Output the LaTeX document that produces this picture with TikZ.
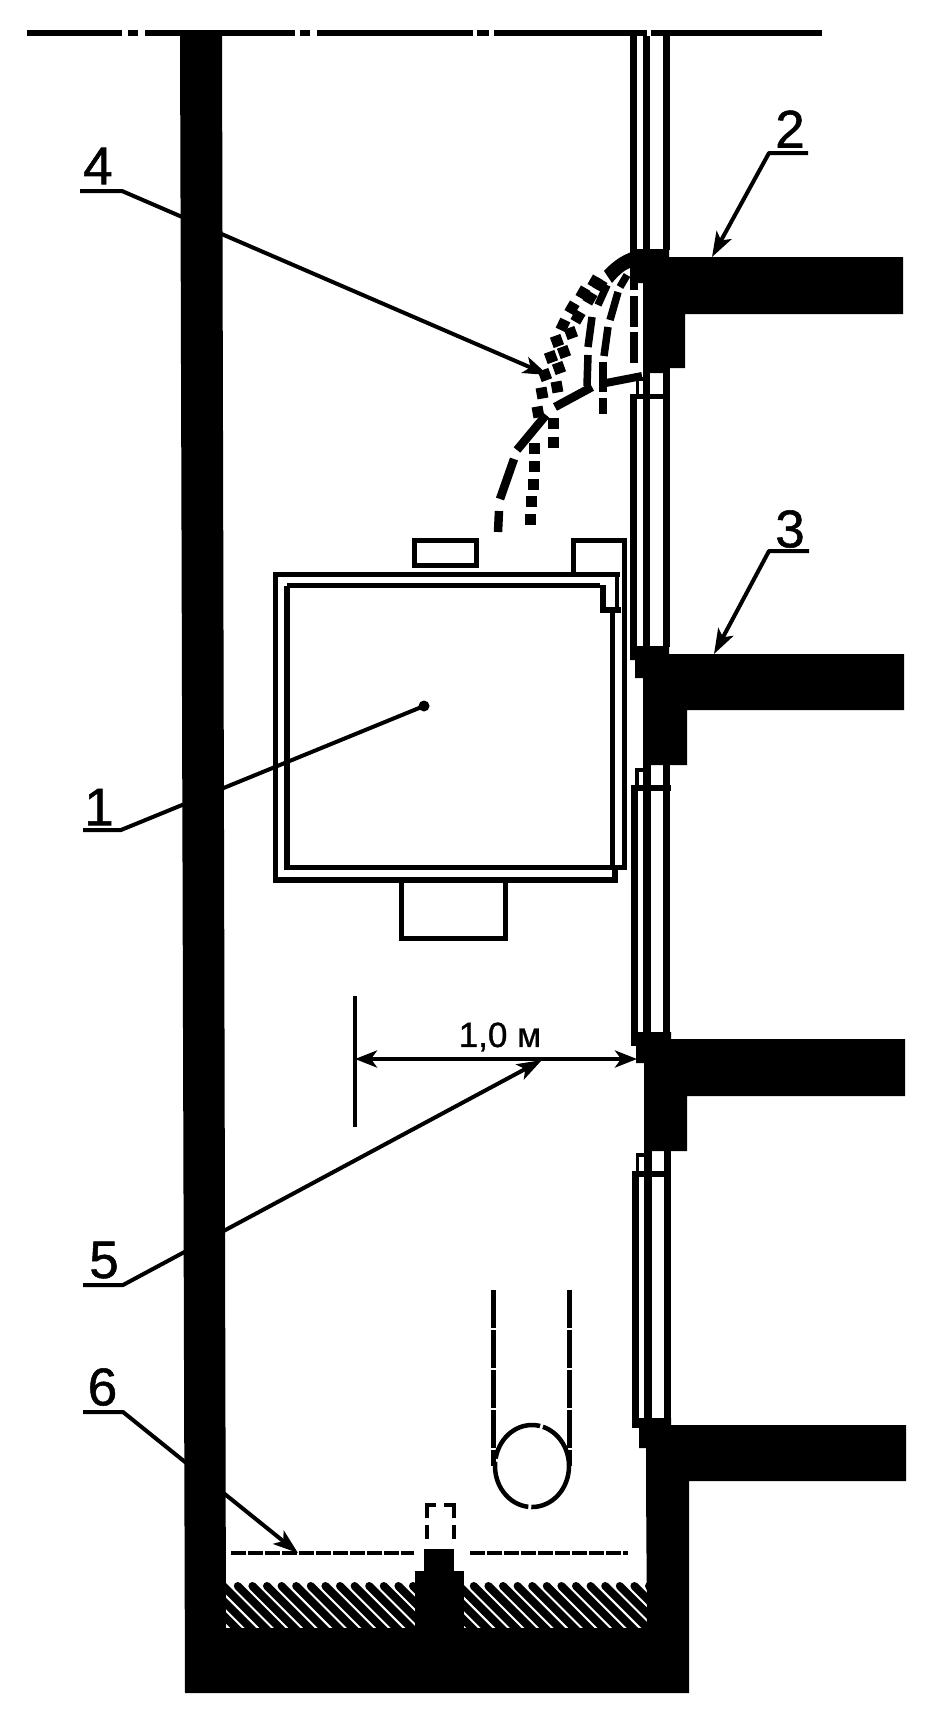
\documentclass[tikz,border=0pt]{standalone}
\usepackage{fontspec}
\setmainfont{Liberation Sans}
\newfontfamily\labelfont[FakeBold=1]{Liberation Sans}
\usetikzlibrary{arrows.meta}
\tikzset{
  every node/.style={inner sep=0pt,outer sep=0pt},
  digit/.style={font=\labelfont\fontsize{53}{53}\selectfont},
  dimtext/.style={font=\labelfont\fontsize{35}{35}\selectfont},
  leader/.style={line width=4pt,line join=round,-{Stealth[length=25pt,width=17pt,inset=6pt]}},
  plainleader/.style={line width=4pt,line join=round},
  outline/.style={line width=5.4pt,line join=miter},
  thickdash/.style={line width=8.5pt},
  meddash/.style={line width=7.5pt},
  finedash/.style={line width=4.5pt,dash pattern=on 38pt off 2pt},
  floordash/.style={line width=3.4pt,dash pattern=on 15pt off 2pt},
  stripe/.style={line width=8pt,line cap=round},
}
\begin{document}
\begin{tikzpicture}[x=1pt,y=-1pt]
\useasboundingbox (0,0) rectangle (933,1729);
% top datum line
\foreach \a/\b in {27/122,128/138,145/295,300/310,317/473,477/489,494/647,651/822}
  \fill (\a,30) rectangle (\b,36);
% shaft walls and pit
\fill (180,33) -- (222,33) -- (226,1628) -- (647,1628) -- (646,1481) -- (689,1481) -- (689,1693) -- (185,1693) -- cycle;
% hatched fill
\begin{scope}
  \clip (226,1578) rectangle (415,1630);
  \foreach \i in {0,...,16} \draw[stripe] ({194+14.6*\i},1586) -- ++(46,46);
\end{scope}
\begin{scope}
  \clip (464,1578) rectangle (647,1630);
  \foreach \i in {0,...,16} \draw[stripe] ({430+14.6*\i},1586) -- ++(46,46);
\end{scope}
% pedestal
\fill (424,1549) rectangle (454,1571);
\fill (415,1571) rectangle (464,1630);
% buffer travel (dashed)
\draw[line width=4pt] (426.5,1518) -- (426.5,1505) -- (436,1505);
\draw[line width=4pt] (444,1505) -- (454,1505) -- (454,1518);
\draw[line width=4pt] (426.5,1525) -- (426.5,1539);
\draw[line width=4pt] (454,1525) -- (454,1539);
% floor dashed level
\draw[floordash] (231,1553) -- (414,1553);
\draw[floordash] (470,1553) -- (628,1553);
% rope and pulley
\draw[finedash] (493.5,1290) -- (493.5,1466);
\draw[finedash] (569.5,1290) -- (569.5,1466);
\draw[line width=4.5pt,dash pattern=on 62pt off 3pt] (532,1466) ellipse [x radius=37,y radius=41];
% landing slabs
\fill (630,249) -- (669,249) -- (669,257) -- (903,257) -- (903,314) -- (685,314) -- (685,368) -- (669,368) -- (669,373) -- (643,373) -- (643,283) -- (630,283) -- cycle;
\fill (630,646) -- (669,646) -- (669,654) -- (904,654) -- (904,710) -- (687,710) -- (687,765) -- (643,765) -- (643,678) -- (635,678) -- (635,660) -- (630,660) -- cycle;
\fill (636,1032) -- (671,1032) -- (671,1039) -- (905,1039) -- (905,1096) -- (687,1096) -- (687,1151) -- (644,1151) -- (644,1063) -- (636,1063) -- cycle;
\fill (639,1418) -- (671,1418) -- (671,1425) -- (906,1425) -- (906,1481) -- (646,1481) -- (646,1448) -- (639,1448) -- cycle;
% door columns: upper storey
\fill (630,36) rectangle (636.5,250);
\fill (643,36) rectangle (649.5,250);
\fill (663,36) rectangle (669.5,250);
% door columns: second storey
\fill (630,394) rectangle (669,399);
\fill (630,394) rectangle (636.5,647);
\fill (643,368) rectangle (649.5,647);
\fill (663,368) rectangle (669.5,647);
\draw[line width=3.4pt] (637.5,394) -- (637.5,379) -- (643,379);
% door columns: third storey
\fill (631,785) rectangle (671,791);
\fill (631,785) rectangle (637.5,1046);
\fill (643,765) rectangle (651,1035);
\fill (663,765) rectangle (670,1035);
\draw[line width=3.4pt] (637,785) -- (637,770) -- (643,770);
% door columns: fourth storey
\fill (632,1171) rectangle (671,1177);
\fill (632,1171) rectangle (638.5,1428);
\fill (644,1151) rectangle (652,1420);
\fill (664,1151) rectangle (671,1420);
\draw[line width=3.4pt] (637.5,1171) -- (637.5,1155) -- (644,1155);
% door swing: corner arc
\fill (604,271) .. controls (612,262) and (625,252) .. (640,250) -- (640,268) -- (630,268) .. controls (624,270) and (618,276) .. (612,283) -- cycle;
% door swing: outer and inner dotted paths
\foreach \x/\y/\r in {595/282/-30,583/293/-30,572/308/-30,563/325/-25,557/341/20,551/357/20,545/375/20,542/393/10,538/412/10,600/285/-30,590/298/-30,578/317/-30,571/333/20,564/352/20,559/368/20,557/387/10,553/423/0,553/442/0,534/448/0,534/466/0,533/484/0,531/501/0,530/519/0}
  \fill[shift={(\x,\y)},rotate=\r] (-5.5,-5.5) rectangle (5.5,5.5);
% door swing: dashed paths
\draw[meddash] (627,275) -- (620,287);
\draw[meddash] (618,292) -- (610,320);
\draw[meddash] (608,327) -- (604,356);
\draw[meddash] (603,362) -- (603,392);
\draw[meddash] (603,398) -- (603,414);
\draw[meddash] (634,282) -- (634,290);
\draw[meddash] (634,296) -- (634,327);
\draw[meddash] (634,332) -- (634,363);
% door swing: heavy path
\draw[meddash] (607,285) -- (598,305);
\draw[meddash] (592,317) -- (588,347);
\draw[meddash] (588,355) -- (587,386);
\draw[thickdash,line join=round] (592,387) -- (555,407);
\draw[thickdash] (546,415) -- (517,450);
\draw[thickdash] (514,459) -- (500,499);
\draw[thickdash] (499,511) -- (498,532);
% half-open door leaf
\draw[line width=8pt] (606,383) -- (642,376);
% car
\draw[outline] (275.5,574.5) -- (620,574.5);
\draw[outline] (287,585.5) -- (600,585.5);
\draw[outline] (275.5,572) -- (275.5,880) -- (615,880) -- (615,867);
\draw[outline] (287,585.5) -- (287,867.5) -- (624.5,867.5) -- (624.5,540.5) -- (573.5,540.5) -- (573.5,573);
\draw[outline] (612.5,610) -- (612.5,867);
\draw[outline] (603,585) -- (603,610) -- (621,610);
\draw[line width=4pt] (617,577) -- (617,610);
\draw[outline] (414.5,540.5) rectangle (476.5,565.5);
\draw[outline] (401.5,882) -- (401.5,938.5) -- (505.5,938.5) -- (505.5,882);
% dimension
\coordinate (dimL) at (355,1059);
\coordinate (dimR) at (637,1059);
\draw[line width=4pt] (354.5,996) -- (354.5,1127);
\draw[line width=4pt,{Stealth[length=22pt,width=17pt,inset=6pt]}-{Stealth[length=22pt,width=17pt,inset=6pt]}] (dimL) -- (dimR);
\node[dimtext] (dimlabel) at (500,1037) {1,0 м};
% labels and leaders
\node[digit] (n1) at (99,807) {1};
\node[digit] (n2) at (790,129) {2};
\node[digit] (n3) at (790,529) {3};
\node[digit] (n4) at (98,166) {4};
\node[digit] (n5) at (104,1260) {5};
\node[digit] (n6) at (102.5,1387) {6};
\coordinate (u1a) at (83,830);  \coordinate (u1b) at (121,830);  \coordinate (t1) at (424,706);
\coordinate (u2a) at (808,153); \coordinate (u2b) at (769,153);  \coordinate (t2) at (712,257);
\coordinate (u3a) at (809,551); \coordinate (u3b) at (769,551);  \coordinate (t3) at (714,654);
\coordinate (u4a) at (80,191);  \coordinate (u4b) at (122,191);  \coordinate (t4) at (548,375);
\coordinate (u5a) at (83,1285); \coordinate (u5b) at (123,1285); \coordinate (t5) at (542,1060);
\coordinate (u6a) at (83,1412); \coordinate (u6b) at (123,1412); \coordinate (t6) at (298,1553);
\draw[plainleader] (u1a) -- (u1b) -- (t1);
\fill (t1) circle (5.5);
\draw[leader] (u2a) -- (u2b) -- (t2);
\draw[leader] (u3a) -- (u3b) -- (t3);
\draw[leader] (u4a) -- (u4b) -- (t4);
\draw[leader] (u5a) -- (u5b) -- (t5);
\draw[leader] (u6a) -- (u6b) -- (t6);
\end{tikzpicture}
\end{document}
